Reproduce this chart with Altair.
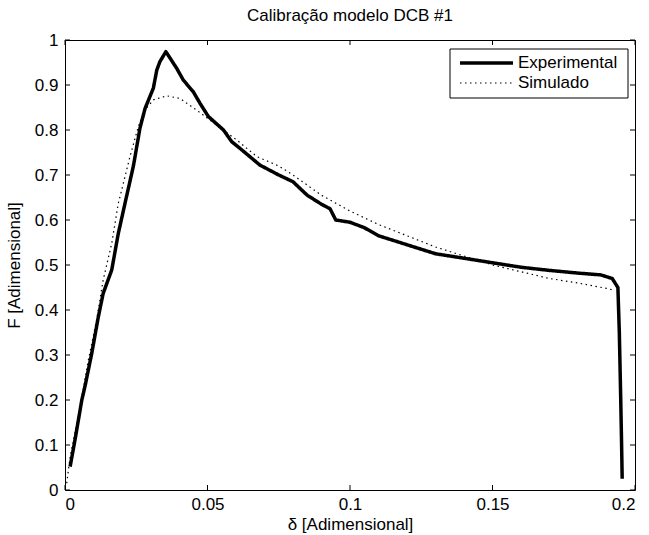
import altair as alt
import pandas as pd

# ---- data ----
series = ["Experimental", "Simulado"]

exp_x = [0.0018, 0.0035, 0.0059, 0.0070, 0.0094, 0.0117, 0.0134, 0.0164, 0.0187, 0.0213,
         0.0240, 0.0263, 0.0281, 0.0310, 0.0322, 0.0333, 0.0354, 0.0392, 0.0415, 0.0450,
         0.0474, 0.0503, 0.0556, 0.0585, 0.0620, 0.0684, 0.0750, 0.0800, 0.0850, 0.0900,
         0.0930, 0.0950, 0.1000, 0.1050, 0.1100, 0.1200, 0.1300, 0.1400, 0.1500, 0.1600,
         0.1700, 0.1800, 0.1880, 0.1920, 0.1940, 0.1945, 0.1950, 0.1953, 0.1955]
exp_y = [0.052, 0.111, 0.200, 0.230, 0.304, 0.385, 0.437, 0.489, 0.570, 0.644,
         0.720, 0.804, 0.848, 0.893, 0.933, 0.952, 0.974, 0.937, 0.911, 0.885,
         0.859, 0.830, 0.800, 0.774, 0.756, 0.722, 0.700, 0.685, 0.655, 0.635,
         0.625, 0.600, 0.595, 0.583, 0.565, 0.545, 0.525, 0.515, 0.505, 0.495,
         0.488, 0.482, 0.478, 0.470, 0.450, 0.350, 0.200, 0.100, 0.025]

sim_x = [0.0006, 0.0018, 0.0053, 0.0082, 0.0111, 0.0134, 0.0164, 0.0187, 0.0199, 0.0228,
         0.0257, 0.0280, 0.0310, 0.0357, 0.0404, 0.0462, 0.0509, 0.0602, 0.0673, 0.0750,
         0.0800, 0.0900, 0.1000, 0.1100, 0.1200, 0.1300, 0.1400, 0.1500, 0.1600, 0.1700,
         0.1800, 0.1900, 0.1920]
sim_y = [0.015, 0.074, 0.185, 0.289, 0.378, 0.467, 0.548, 0.637, 0.667, 0.741,
         0.807, 0.844, 0.867, 0.876, 0.870, 0.844, 0.822, 0.778, 0.741, 0.720,
         0.700, 0.655, 0.620, 0.590, 0.565, 0.540, 0.520, 0.500, 0.485, 0.470,
         0.460, 0.448, 0.445]

x_ticks = [0, 0.05, 0.1, 0.15, 0.2]
y_ticks = [0, 0.1, 0.2, 0.3, 0.4, 0.5, 0.6, 0.7, 0.8, 0.9, 1.0]

title_text = "Calibração modelo DCB #1"
x_title = "δ [Adimensional]"
y_title = "F [Adimensional]"

# ---- build tables ----
df = pd.concat([
    pd.DataFrame({"x": exp_x, "y": exp_y, "series": series[0], "i": range(len(exp_x))}),
    pd.DataFrame({"x": sim_x, "y": sim_y, "series": series[1], "i": range(len(sim_x))}),
])
xt = pd.DataFrame({"x": x_ticks})
yt = pd.DataFrame({"y": y_ticks})

FONT = "Liberation Sans"
FS = 17
W, H = 570, 450
xs = alt.Scale(domain=[0, 0.2], nice=False, zero=False)
ys = alt.Scale(domain=[0, 1], nice=False, zero=False)
x_axis = alt.Axis(values=x_ticks, format="~g", title=x_title, ticks=False, grid=False,
                  domain=False, labelPadding=6, titlePadding=4)
y_axis = alt.Axis(values=y_ticks, format="~g", title=y_title, ticks=False, grid=False,
                  domain=False, labelPadding=7, titlePadding=11)

lines = alt.Chart(df).mark_line(color="black", strokeCap="butt", strokeJoin="round").encode(
    x=alt.X("x:Q", scale=xs, axis=x_axis),
    y=alt.Y("y:Q", scale=ys, axis=y_axis),
    strokeDash=alt.StrokeDash("series:N", scale=alt.Scale(domain=series, range=[[1, 0], [1.5, 3.5]]), legend=None),
    strokeWidth=alt.StrokeWidth("series:N", scale=alt.Scale(domain=series, range=[3.5, 1.2]), legend=None),
    order="i:Q",
)

tick_len = 5
bottom_ticks = alt.Chart(xt).mark_rule(color="black").encode(
    x=alt.X("x:Q", scale=xs, axis=x_axis), y=alt.value(H), y2=alt.value(H - tick_len))
top_ticks = alt.Chart(xt).mark_rule(color="black").encode(
    x=alt.X("x:Q", scale=xs, axis=x_axis), y=alt.value(0), y2=alt.value(tick_len))
left_ticks = alt.Chart(yt).mark_rule(color="black").encode(
    y=alt.Y("y:Q", scale=ys, axis=y_axis), x=alt.value(0), x2=alt.value(tick_len))
right_ticks = alt.Chart(yt).mark_rule(color="black").encode(
    y=alt.Y("y:Q", scale=ys, axis=y_axis), x=alt.value(W), x2=alt.value(W - tick_len))

# ---- legend box ----
one = pd.DataFrame({"a": [0]})
leg_box = alt.Chart(one).mark_rect(fill="white", stroke="black", strokeWidth=1).encode(
    x=alt.value(385), x2=alt.value(563), y=alt.value(9), y2=alt.value(58))
leg_l1 = alt.Chart(one).mark_rule(color="black", strokeWidth=3.5, strokeCap="butt").encode(
    x=alt.value(395), x2=alt.value(448), y=alt.value(23))
leg_l2 = alt.Chart(one).mark_rule(color="black", strokeWidth=1.2, strokeDash=[1.5, 3.5]).encode(
    x=alt.value(395), x2=alt.value(448), y=alt.value(43))
leg_t1 = alt.Chart(pd.DataFrame({"t": [series[0]]})).mark_text(
    align="left", baseline="middle", font=FONT, fontSize=FS, color="black").encode(
    x=alt.value(453), y=alt.value(23), text="t:N")
leg_t2 = alt.Chart(pd.DataFrame({"t": [series[1]]})).mark_text(
    align="left", baseline="middle", font=FONT, fontSize=FS, color="black").encode(
    x=alt.value(453), y=alt.value(43), text="t:N")

chart = alt.layer(
    lines, bottom_ticks, top_ticks, left_ticks, right_ticks,
    leg_box, leg_l1, leg_l2, leg_t1, leg_t2,
).properties(
    width=W, height=H,
    title=alt.TitleParams(title_text, font=FONT, fontSize=FS, fontWeight="normal",
                          anchor="middle", offset=6, color="black"),
    autosize=alt.AutoSizeParams(type="none"),
    padding={"left": 65, "top": 40, "right": 14, "bottom": 45},
    background="white",
).configure_view(
    stroke="black", strokeWidth=1,
).configure_axis(
    labelFont=FONT, titleFont=FONT, labelFontSize=FS, titleFontSize=FS,
    labelColor="black", titleColor="black", titleFontWeight="normal",
)

chart.save("out.html", embed_options={"renderer": "svg", "actions": False})
